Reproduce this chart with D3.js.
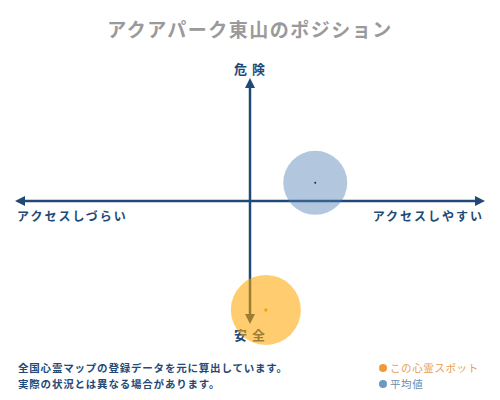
<!DOCTYPE html>
<html lang="ja">
<head>
<meta charset="UTF-8">
<script src="https://d3js.org/d3.v7.min.js"></script>
<style>
  body { margin: 0; background: #fff; }
  svg text { font-family: "Noto Sans CJK JP", sans-serif; }
</style>
</head>
<body>
<svg id="chart" width="500" height="400"></svg>
<script>
// position data (x: アクセス, y: 危険度), both on -5..5
const spots = ["この心霊スポット", "平均値"];
const xVals = [0.34, 1.40];
const yVals = [-4.5, 0.75];
const sizes = [35, 32];
const fills = ["#ffa500", "#4f7fb5"];
const dotColors = ["#f5a000", "#1a2a3a"];
const footLines = ["全国心霊マップの登録データを元に算出しています。", "実際の状況とは異なる場合があります。"];

const svg = d3.select("#chart");
const navy = "#1f4a78";

const x = d3.scaleLinear().domain([-5, 5]).range([17, 483]);
const y = d3.scaleLinear().domain([-5, 5]).range([322, 80]);

// title
svg.append("text")
  .attr("x", 250).attr("y", 37)
  .attr("text-anchor", "middle")
  .attr("font-size", 19).attr("font-weight", "bold")
  .attr("letter-spacing", 1.5)
  .attr("fill", "#9a9a9a")
  .text("アクアパーク東山のポジション");

const defs = svg.append("defs");
["start", "end"].forEach(id => {
  defs.append("marker")
    .attr("id", "arr-" + id)
    .attr("viewBox", "0 0 10 10")
    .attr("refX", 5).attr("refY", 5)
    .attr("markerWidth", 4).attr("markerHeight", 4)
    .attr("orient", id == "start" ? "auto-start-reverse" : "auto")
    .append("path")
    .attr("d", "M0,0 L10,5 L0,10 z")
    .attr("fill", navy);
});

// axes
svg.append("line")
  .attr("x1", x(-5) + 3).attr("x2", x(5) - 3)
  .attr("y1", y(0)).attr("y2", y(0))
  .attr("stroke", navy).attr("stroke-width", 2.5)
  .attr("marker-start", "url(#arr-start)")
  .attr("marker-end", "url(#arr-end)");
svg.append("line")
  .attr("x1", x(0)).attr("x2", x(0))
  .attr("y1", y(5) + 3).attr("y2", y(-5) - 3)
  .attr("stroke", navy).attr("stroke-width", 2.5)
  .attr("marker-start", "url(#arr-start)")
  .attr("marker-end", "url(#arr-end)");

// axis labels
const lab = (tx, ty, anchor, s, fs, sp) => svg.append("text")
  .attr("x", tx).attr("y", ty)
  .attr("text-anchor", anchor)
  .attr("font-size", fs).attr("font-weight", "bold")
  .attr("letter-spacing", sp)
  .attr("fill", navy).text(s);
lab(250, 74, "middle", "危 険", 13, 1);
lab(250, 340, "middle", "安 全", 13, 1);
lab(17, 221, "start", "アクセスしづらい", 12, 2);
lab(484, 221, "end", "アクセスしやすい", 12, 2);

// bubbles
const g = svg.append("g");
[1, 0].forEach(i => {
  g.append("circle")
    .attr("cx", x(xVals[i])).attr("cy", y(yVals[i]))
    .attr("r", sizes[i])
    .attr("fill", fills[i]).attr("fill-opacity", i == 0 ? 0.56 : 0.44);
  g.append("circle")
    .attr("cx", x(xVals[i])).attr("cy", y(yVals[i]))
    .attr("r", i == 0 ? 1.6 : 1)
    .attr("fill", dotColors[i]);
});

// footnote
footLines.forEach((t, i) => {
  svg.append("text")
    .attr("x", 18).attr("y", 372 + i * 16)
    .attr("font-size", 10.5).attr("font-weight", "bold")
    .attr("letter-spacing", 0.8)
    .attr("fill", navy).text(t);
});

// legend
spots.forEach((s, i) => {
  svg.append("circle")
    .attr("cx", 383).attr("cy", 368 + i * 16).attr("r", 4)
    .attr("fill", i == 0 ? "#ef9a3a" : "#6a9ac4");
  svg.append("text")
    .attr("x", 390).attr("y", 372 + i * 16)
    .attr("font-size", 10.5)
    .attr("letter-spacing", 0.6)
    .attr("fill", i == 0 ? "#e8a050" : "#6a8cb0").text(s);
});
</script>
</body>
</html>
